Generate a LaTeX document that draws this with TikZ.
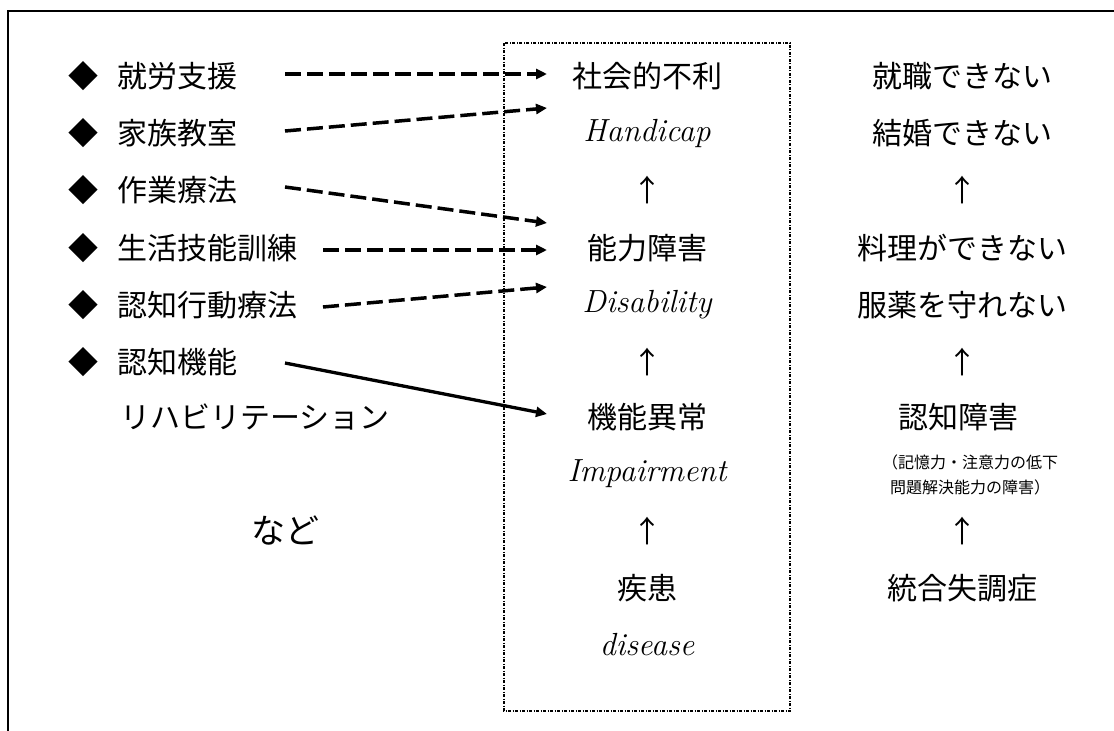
\documentclass[tikz,border=0pt]{standalone}
\usepackage{fontspec}
\newfontfamily\jp{Noto Sans CJK JP}
\usetikzlibrary{arrows.meta}
\begin{document}
\begin{tikzpicture}[x=1pt,y=-1pt,
  jt/.style={font=\jp\fontsize{30}{30}\selectfont, inner sep=0pt},
  lt/.style={jt, anchor=west},
  en/.style={font=\fontsize{32}{32}\selectfont\itshape, inner sep=0pt},
  sm/.style={font=\jp\fontsize{16}{25}\selectfont, inner sep=0pt, align=center},
  tip/.style={-{Triangle[length=11pt,width=10pt]}},
  dar/.style={tip, line width=3.5pt, dash pattern=on 16pt off 6pt},
  sar/.style={tip, line width=3.3pt},
  frame/.style={line width=2pt},
  dbox/.style={line width=1.2pt, dash pattern=on 3pt off 1.5pt on 1pt off 1.5pt}]
\useasboundingbox (0,0) rectangle (1114,731);
\draw[frame] (8,731) -- (8,11) -- (1114,11);
\draw[dbox] (504,43) rectangle (790,711);

% left column
\foreach \y/\n in {76/1,133/2,190/3,248/4,305/5,362/6}{
  \node[jt] (b\n) at (83,\y) {◆};
}
\node[lt] (l1) at (117,76) {就労支援};
\node[lt] (l2) at (117,133) {家族教室};
\node[lt] (l3) at (117,190) {作業療法};
\node[lt] (l4) at (117,248) {生活技能訓練};
\node[lt] (l5) at (117,305) {認知行動療法};
\node[lt] (l6) at (117,362) {認知機能};
\node[lt] (l7) at (120,417) {リハビリテーション};
\node[jt, font=\jp\fontsize{34}{34}\selectfont] (nado) at (285,531) {など};

% middle column
\node[jt] (m1) at (647,76) {社会的不利};
\node[en] (m2) at (647,133) {Handicap};
\node[jt] (m3) at (647,190) {↑};
\node[jt] (m4) at (647,248) {能力障害};
\node[en] (m5) at (647,305) {Disability};
\node[jt] (m6) at (647,362) {↑};
\node[jt] (m7) at (647,417) {機能異常};
\node[en] (m8) at (647,474) {Impairment};
\node[jt] (m9) at (647,531) {↑};
\node[jt] (m10) at (647,588) {疾患};
\node[en] (m11) at (647,645) {disease};

% right column
\node[jt] (r1) at (962,76) {就職できない};
\node[jt] (r2) at (962,133) {結婚できない};
\node[jt] (r3) at (962,190) {↑};
\node[jt] (r4) at (962,248) {料理ができない};
\node[jt] (r5) at (962,305) {服薬を守れない};
\node[jt] (r6) at (962,362) {↑};
\node[jt] (r7) at (958,417) {認知障害};
\node[sm] (r8) at (970,475) {（記憶力・注意力の低下\\問題解決能力の障害）};
\node[jt] (r9) at (962,531) {↑};
\node[jt] (r10) at (962,588) {統合失調症};

% connectors
\coordinate (s1) at (285,74);  \coordinate (e1) at (547,74);
\coordinate (s2) at (285,131); \coordinate (e2) at (547,108);
\coordinate (s3) at (285,187); \coordinate (e3) at (547,223);
\coordinate (s4) at (323,250); \coordinate (e4) at (547,250);
\coordinate (s5) at (323,307); \coordinate (e5) at (547,287);
\coordinate (s6) at (285,363); \coordinate (e6) at (547,414);
\draw[dar] (s1) -- (e1);
\draw[dar] (s2) -- (e2);
\draw[dar] (s3) -- (e3);
\draw[dar] (s4) -- (e4);
\draw[dar] (s5) -- (e5);
\draw[sar] (s6) -- (e6);
\end{tikzpicture}
\end{document}
